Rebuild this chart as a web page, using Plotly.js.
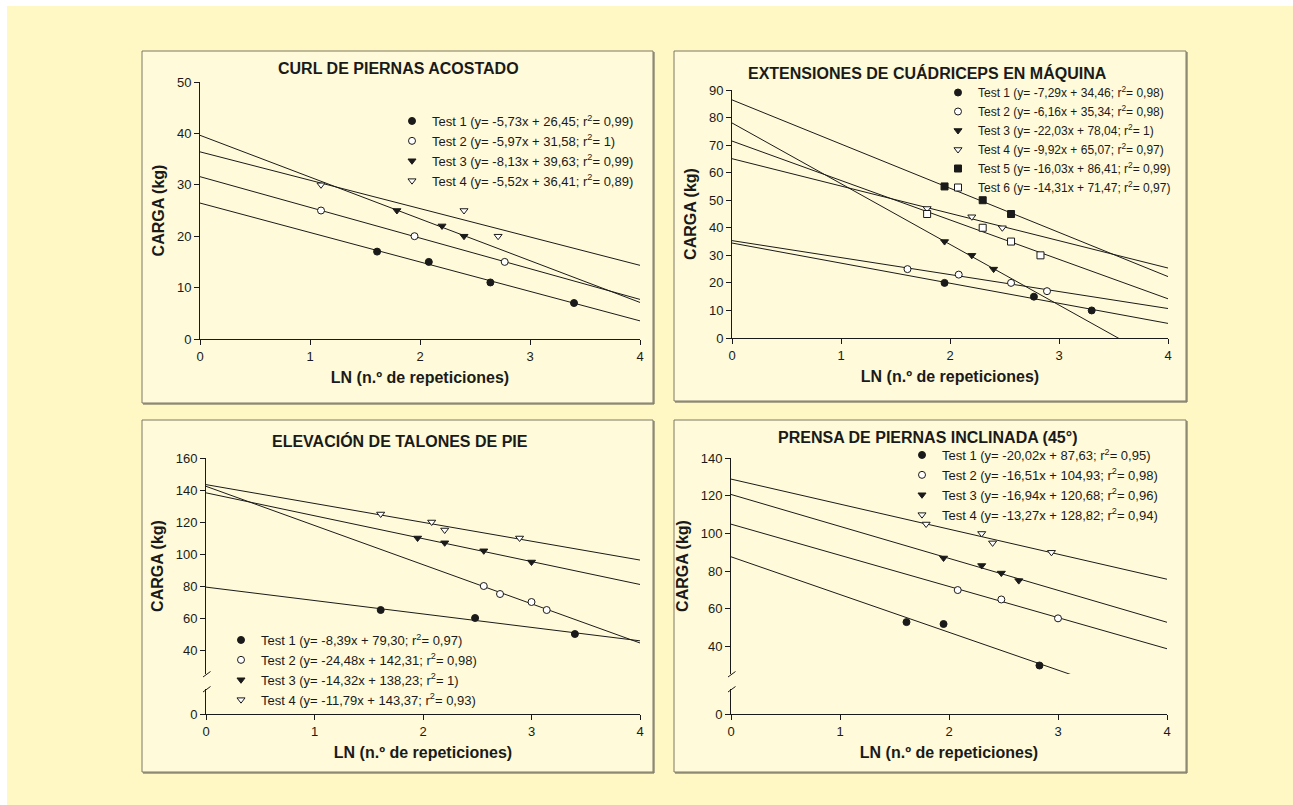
<!DOCTYPE html>
<html>
<head>
<meta charset="utf-8">
<script src="https://cdn.plot.ly/plotly-3.0.1.min.js"></script>
<style>
  html, body { margin: 0; padding: 0; background: #ffffff; width: 1293px; height: 805px; overflow: hidden; }
  #chart { position: absolute; left: 7px; top: 6px; width: 1286px; height: 799px; }
</style>
</head>
<body>
<div id="chart"></div>
<script>
// ---------------- DATA ----------------
// x = LN (n.º de repeticiones), y = CARGA (kg)

// Panel 1: CURL DE PIERNAS ACOSTADO
const curlTitle = 'CURL DE PIERNAS ACOSTADO';
const curlX1 = [1.61, 2.08, 2.64, 3.40];
const curlY1 = [17, 15, 11, 7];
const curlX2 = [1.10, 1.95, 2.77];
const curlY2 = [25, 20, 15];
const curlX3 = [1.79, 2.20, 2.40];
const curlY3 = [25, 22, 20];
const curlX4 = [1.10, 2.40, 2.71];
const curlY4 = [30, 25, 20];
const curlSlope = [-5.73, -5.97, -8.13, -5.52];
const curlIntercept = [26.45, 31.58, 39.63, 36.41];
const curlR2 = [0.99, 1, 0.99, 0.89];

// Panel 2: EXTENSIONES DE CUÁDRICEPS EN MÁQUINA
const extTitle = 'EXTENSIONES DE CUÁDRICEPS EN MÁQUINA';
const extX1 = [1.95, 2.77, 3.30];
const extY1 = [20, 15, 10];
const extX2 = [1.61, 2.08, 2.56, 2.89];
const extY2 = [25, 23, 20, 17];
const extX3 = [1.95, 2.20, 2.40];
const extY3 = [35, 30, 25];
const extX4 = [1.79, 2.20, 2.48];
const extY4 = [47, 44, 40];
const extX5 = [1.95, 2.30, 2.56];
const extY5 = [55, 50, 45];
const extX6 = [1.79, 2.30, 2.56, 2.83];
const extY6 = [45, 40, 35, 30];
const extSlope = [-7.29, -6.16, -22.03, -9.92, -16.03, -14.31];
const extIntercept = [34.46, 35.34, 78.04, 65.07, 86.41, 71.47];
const extR2 = [0.98, 0.98, 1, 0.97, 0.99, 0.97];

// Panel 3: ELEVACIÓN DE TALONES DE PIE
const talTitle = 'ELEVACIÓN DE TALONES DE PIE';
const talX1 = [1.61, 2.48, 3.40];
const talY1 = [65, 60, 50];
const talX2 = [2.56, 2.71, 3.00, 3.14];
const talY2 = [80, 75, 70, 65];
const talX3 = [1.95, 2.20, 2.56, 3.00];
const talY3 = [110, 107, 102, 95];
const talX4 = [1.61, 2.08, 2.20, 2.89];
const talY4 = [125, 120, 115, 110];
const talSlope = [-8.39, -24.48, -14.32, -11.79];
const talIntercept = [79.30, 142.31, 138.23, 143.37];
const talR2 = [0.97, 0.98, 1, 0.93];

// Panel 4: PRENSA DE PIERNAS INCLINADA (45°)
const preTitle = 'PRENSA DE PIERNAS INCLINADA (45°)';
const preX1 = [1.61, 1.95, 2.83];
const preY1 = [53, 52, 30];
const preX2 = [2.08, 2.48, 3.00];
const preY2 = [70, 65, 55];
const preX3 = [1.95, 2.30, 2.48, 2.64];
const preY3 = [87, 83, 79, 75];
const preX4 = [1.79, 2.30, 2.40, 2.94];
const preY4 = [105, 100, 95, 90];
const preSlope = [-20.02, -16.51, -16.94, -13.27];
const preIntercept = [87.63, 104.93, 120.68, 128.82];
const preR2 = [0.95, 0.98, 0.96, 0.94];

// Fitted-line x span and axis labels
const fitX = [0, 4];
const seriesNames = ['Test 1', 'Test 2', 'Test 3', 'Test 4', 'Test 5', 'Test 6'];
const xTitle = 'LN (n.º de repeticiones)';
const yTitle = 'CARGA (kg)';

// ---------------- STYLE / LAYOUT ----------------
const FONT = 'Liberation Sans, Arial, Helvetica, sans-serif';
const INK = '#1a1a1a';
const OUTER_BG = '#FFF7C4';
const PANEL_BG = '#FFFAD9';
const symStyles = [
  {symbol: 'circle', fill: true},
  {symbol: 'circle', fill: false},
  {symbol: 'triangle-down', fill: true},
  {symbol: 'triangle-down', fill: false},
  {symbol: 'square', fill: true},
  {symbol: 'square', fill: false}
];

const W = 1286, H = 799, OX = 7, OY = 6;
const fx = X => (X - OX) / W;
const fy = Y => 1 - (Y - OY) / H;

function fmt(v) {
  if (Number.isInteger(v)) return String(v);
  return v.toFixed(2).replace('.', ',');
}

const traces = [];
function addPanel(xa, ya, xsList, ysList, slopes, intercepts, r2s, legendId) {
  for (let i = 0; i < xsList.length; i++) {
    const a = intercepts[i], b = slopes[i];
    traces.push({
      type: 'scatter', mode: 'lines', xaxis: xa, yaxis: ya,
      x: fitX, y: fitX.map(x => a + b * x),
      line: {color: INK, width: 1}, showlegend: false, hoverinfo: 'skip'
    });
  }
  for (let i = 0; i < xsList.length; i++) {
    const st = symStyles[i];
    const name = seriesNames[i] + ' (y= ' + fmt(slopes[i]) + 'x + ' + fmt(intercepts[i]) +
                 '; r<sup>2</sup>= ' + fmt(r2s[i]) + ')';
    traces.push({
      type: 'scatter', mode: 'markers', xaxis: xa, yaxis: ya,
      x: xsList[i], y: ysList[i], name: name, legend: legendId,
      marker: {
        symbol: st.symbol, size: 7,
        color: st.fill ? INK : '#ffffff',
        line: {color: INK, width: 1}
      },
      cliponaxis: false
    });
  }
}

addPanel('x', 'y', [curlX1, curlX2, curlX3, curlX4], [curlY1, curlY2, curlY3, curlY4],
         curlSlope, curlIntercept, curlR2, 'legend');
addPanel('x2', 'y2', [extX1, extX2, extX3, extX4, extX5, extX6],
         [extY1, extY2, extY3, extY4, extY5, extY6], extSlope, extIntercept, extR2, 'legend2');
addPanel('x3', 'y3', [talX1, talX2, talX3, talX4], [talY1, talY2, talY3, talY4],
         talSlope, talIntercept, talR2, 'legend3');
addPanel('x4', 'y4', [preX1, preX2, preX3, preX4], [preY1, preY2, preY3, preY4],
         preSlope, preIntercept, preR2, 'legend4');

// empty traces that register the lower (broken-axis) segments as subplots
traces.push({type: 'scatter', mode: 'lines', x: [], y: [], xaxis: 'x3', yaxis: 'y5',
             showlegend: false, hoverinfo: 'skip'});
traces.push({type: 'scatter', mode: 'lines', x: [], y: [], xaxis: 'x4', yaxis: 'y6',
             showlegend: false, hoverinfo: 'skip'});

const tickFont = {family: FONT, size: 13, color: INK};
const titleFont = {family: FONT, size: 16, color: INK};
function baseAxis(extra) {
  return Object.assign({
    showline: true, linecolor: INK, linewidth: 1,
    ticks: 'outside', ticklen: 5, tickwidth: 1, tickcolor: INK,
    showgrid: false, zeroline: false, tickfont: tickFont,
    automargin: false, fixedrange: true
  }, extra);
}
function xAx(d0, d1, anchor) {
  return baseAxis({domain: [fx(d0), fx(d1)], anchor: anchor, range: [0, 4], dtick: 1, tick0: 0,
    title: {text: '<b>' + xTitle + '</b>', font: titleFont, standoff: 9}});
}
function yAx(top, bottom, anchor, range, dtick, withTitle) {
  const o = {domain: [fy(bottom), fy(top)], anchor: anchor, range: range, dtick: dtick, tick0: 0};
  if (withTitle) o.title = {text: '<b>' + yTitle + '</b>', font: titleFont, standoff: 8};
  return baseAxis(o);
}

function legendAt(leftPx, topPx, size) {
  return {x: fx(leftPx), y: fy(topPx), xanchor: 'left', yanchor: 'top',
    bgcolor: 'rgba(0,0,0,0)', borderwidth: 0,
    font: {family: FONT, size: size, color: INK}, traceorder: 'normal'};
}

function panelShapes(l, t, r, b) {
  return [
    {type: 'rect', xref: 'paper', yref: 'paper', x0: fx(l), x1: fx(r), y0: fy(b), y1: fy(t),
     fillcolor: PANEL_BG, line: {color: '#7d7866', width: 1}, layer: 'below'},
    {type: 'line', xref: 'paper', yref: 'paper', x0: fx(r + 1), x1: fx(r + 1), y0: fy(b + 1), y1: fy(t + 1),
     line: {color: '#5e5b50', width: 1}, layer: 'below'},
    {type: 'line', xref: 'paper', yref: 'paper', x0: fx(l + 1), x1: fx(r + 1), y0: fy(b + 1), y1: fy(b + 1),
     line: {color: '#5e5b50', width: 1}, layer: 'below'}
  ];
}
function breakMarks(axisX, upperEnd, lowerStart) {
  const mk = (yBase) => ({type: 'line', xref: 'paper', yref: 'paper',
    x0: fx(axisX - 3), y0: fy(yBase + 3), x1: fx(axisX + 4.5), y1: fy(yBase - 2.5),
    line: {color: INK, width: 1}});
  return [mk(upperEnd), mk(lowerStart)];
}

function panelTitle(text, cx, cy) {
  return {text: '<b>' + text + '</b>', xref: 'paper', yref: 'paper', x: fx(cx), y: fy(cy),
    xanchor: 'center', yanchor: 'middle', showarrow: false, font: titleFont};
}

const layout = {
  width: W, height: H,
  margin: {l: 0, r: 0, t: 0, b: 0, pad: 0},
  paper_bgcolor: OUTER_BG, plot_bgcolor: 'rgba(0,0,0,0)',
  font: {family: FONT, color: INK},
  showlegend: true,
  xaxis: xAx(200, 640, 'y'),
  yaxis: yAx(82, 339, 'x', [0, 50], 10, true),
  xaxis2: xAx(732, 1168, 'y2'),
  yaxis2: yAx(90, 338, 'x2', [0, 90], 10, true),
  xaxis3: xAx(206, 640, 'y5'),
  yaxis3: yAx(458, 674, 'x3', [25, 160], 20, true),
  yaxis5: yAx(689, 714, 'x3', [0, 15.6], 20, false),
  xaxis4: xAx(731, 1167, 'y6'),
  yaxis4: yAx(458, 674, 'x4', [25.5, 140], 20, true),
  yaxis6: yAx(689, 714, 'x4', [0, 13.2], 20, false),
  legend: legendAt(392, 106, 13),
  legend2: legendAt(938, 78, 12),
  legend3: legendAt(221, 625, 13),
  legend4: legendAt(902, 440, 13),
  shapes: [].concat(
    panelShapes(142, 51, 653, 403),
    panelShapes(674, 51, 1186, 401),
    panelShapes(142, 420, 653, 772),
    panelShapes(674, 420, 1186, 772),
    breakMarks(206, 674, 689),
    breakMarks(731, 674, 689)
  ),
  annotations: [
    panelTitle(curlTitle, 398, 68),
    panelTitle(extTitle, 927, 73),
    panelTitle(talTitle, 400, 441),
    panelTitle(preTitle, 927, 437)
  ]
};

Plotly.newPlot('chart', traces, layout, {displayModeBar: false, staticPlot: true});
</script>
</body>
</html>
